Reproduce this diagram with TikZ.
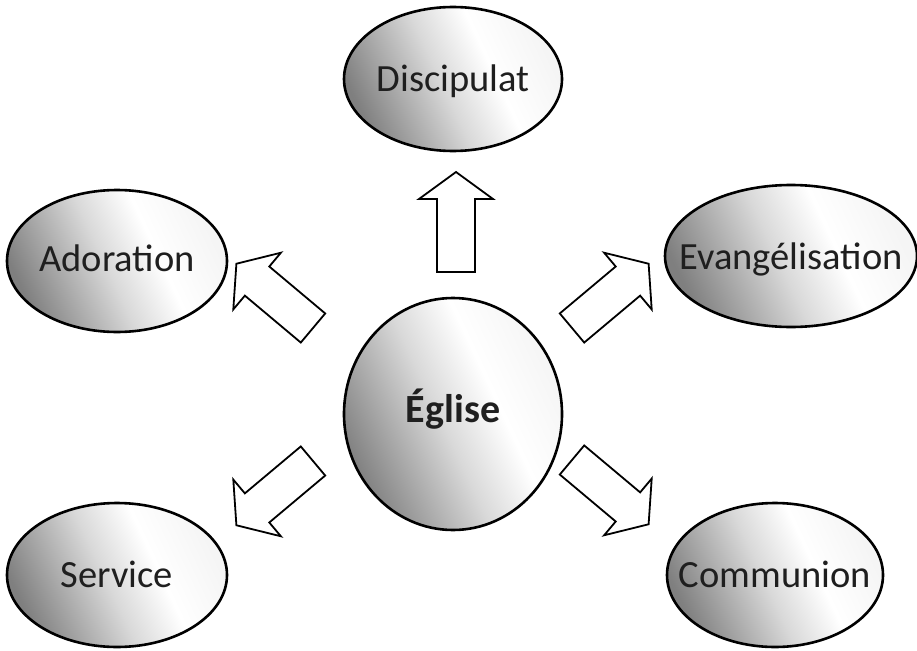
\documentclass[tikz,border=0pt]{standalone}
\usepackage{fontspec}
\setmainfont{Carlito}
\usetikzlibrary{shapes.geometric}
\pgfdeclarehorizontalshading{ovalshade}{100bp}{color(0bp)=(black!52); color(25bp)=(black!50); color(47bp)=(black!15); color(60bp)=(white); color(75bp)=(white!96!black); color(100bp)=(white!96!black)}
\newcommand{\ovtext}[2][12pt]{\makebox[0pt]{\raisebox{-#1}[0pt][0pt]{#2}}}
\tikzset{
  oval/.style={ellipse, draw=black, line width=2.6pt, shading=ovalshade, shading angle=25, inner sep=0pt, font=\fontsize{38.5}{46}\selectfont, text=black!88},
  blockarrow/.pic={\draw[line width=1.8pt, fill=white, line join=miter] (0,-19) -- (73,-19) -- (73,-37) -- (100,0) -- (73,37) -- (73,19) -- (0,19) -- cycle;}
}
\begin{document}
\begin{tikzpicture}[x=1pt,y=1pt]
\useasboundingbox (0,0) rectangle (917,-650);
\node[oval, minimum width=218pt, minimum height=144pt] (disc) at (453,-79) {\ovtext[13pt]{Discipulat}};
\node[oval, minimum width=220pt, minimum height=142pt] (ador) at (117,-261) {\ovtext[10pt]{Adoration}};
\node[oval, minimum width=252pt, minimum height=142pt] (evan) at (791,-256) {\ovtext[13pt]{Evangélisation}};
\node[oval, minimum width=216pt, minimum height=144pt] (comm) at (775,-575) {\ovtext{Communion}};
\node[oval, minimum width=220pt, minimum height=144pt] (serv) at (117,-575) {\ovtext{Service}};
\node[oval, minimum width=218pt, minimum height=232pt, font=\fontsize{40}{48}\selectfont\bfseries] (egl) at (453,-414) {\ovtext[8pt]{Église}};
\pic[rotate=90] at (456,-272) {blockarrow};
\pic[rotate=140] at (313,-328) {blockarrow};
\pic[rotate=40] at (572,-328) {blockarrow};
\pic[rotate=-40] at (572,-460) {blockarrow};
\pic[rotate=220] at (313,-461) {blockarrow};
\end{tikzpicture}
\end{document}
